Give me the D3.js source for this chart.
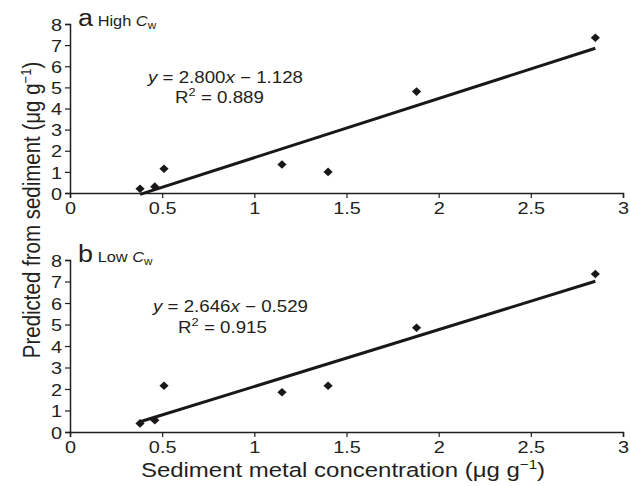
<!DOCTYPE html>
<html>
<head>
<meta charset="utf-8">
<script src="https://cdn.jsdelivr.net/npm/d3@7"></script>
<style>
  body { margin: 0; background: #fff; }
  text { font-family: "Liberation Sans", Arial, sans-serif; fill: #231f20; }
</style>
</head>
<body>
<div id="chart"></div>
<script>
// data
const sedimentX = [0.38, 0.46, 0.51, 1.15, 1.40, 1.88, 2.85];
const highCw = [0.2, 0.3, 1.15, 1.35, 1.0, 4.8, 7.35];
const lowCw = [0.4, 0.55, 2.15, 1.85, 2.15, 4.85, 7.35];
const xTicks = [0, 0.5, 1, 1.5, 2, 2.5, 3];
const yTicks = [0, 1, 2, 3, 4, 5, 6, 7, 8];

const panels = [
  { letter: "a", name: "High ", values: highCw, slope: 2.800, icept: -1.128, eq: ["2.800", "1.128"], r2: "0.889",
    top: 24, bottom: 193, eqPos: [148, 83], rPos: [175, 103] },
  { letter: "b", name: "Low ", values: lowCw, slope: 2.646, icept: -0.529, eq: ["2.646", "0.529"], r2: "0.915",
    top: 260, bottom: 432, eqPos: [153, 312], rPos: [178, 333] }
];

const width = 630, height = 486;
const stretch = 1.17; // the source type is a bit wide
const svg = d3.select("#chart").append("svg")
  .attr("width", width)
  .attr("height", height);

const x = d3.scaleLinear().domain([0, 3]).range([70, 623]);
const ink = "#231f20";

// text placed at (px,py) and widened horizontally
const wideText = (sel, px, py) => sel.append("text")
  .attr("transform", `translate(${px},${py}) scale(${stretch},1)`);

panels.forEach((p) => {
  const y = d3.scaleLinear().domain([0, 8]).range([p.bottom, p.top]);
  const g = svg.append("g");

  // axes
  const xAxis = g.append("g")
    .attr("transform", `translate(0,${p.bottom})`)
    .call(d3.axisBottom(x).tickValues(xTicks).tickSize(5).tickFormat(d3.format("")));
  const yAxis = g.append("g")
    .attr("transform", `translate(${x(0)},0)`)
    .call(d3.axisLeft(y).tickValues(yTicks).tickSize(5));
  [xAxis, yAxis].forEach((a) => {
    a.select(".domain").attr("stroke", ink).attr("stroke-width", 1.5);
    a.selectAll(".tick line").attr("stroke", ink).attr("stroke-width", 1.2);
    a.selectAll("text").style("font-size", "17px").attr("fill", ink);
  });
  xAxis.selectAll(".tick text")
    .attr("x", 0).attr("y", 0)
    .attr("transform", `translate(0,9) scale(${stretch},1)`);
  yAxis.selectAll(".tick text")
    .attr("x", 0).attr("dy", "0.36em")
    .attr("transform", `translate(-8,0) scale(${stretch},1)`);

  // trend line
  const xs = [d3.min(sedimentX), d3.max(sedimentX)];
  g.append("line")
    .attr("x1", x(xs[0])).attr("y1", y(p.slope * xs[0] + p.icept))
    .attr("x2", x(xs[1])).attr("y2", y(p.slope * xs[1] + p.icept))
    .attr("stroke", "#1a1718")
    .attr("stroke-width", 3);

  // points (diamonds)
  g.selectAll("path.pt")
    .data(sedimentX.map((v, i) => [v, p.values[i]]))
    .join("path")
    .attr("class", "pt")
    .attr("d", "M0,-4.3L4.6,0L0,4.3L-4.6,0Z")
    .attr("transform", (d) => `translate(${x(d[0])},${y(d[1])})`)
    .attr("fill", "#1a1718");

  // panel label
  const lab = wideText(g, 78, p.top + 2);
  lab.append("tspan").style("font-size", "23px").text(p.letter);
  lab.append("tspan").style("font-size", "14px").attr("dx", 4).text(p.name);
  lab.append("tspan").style("font-size", "14px").style("font-style", "italic").text("C");
  lab.append("tspan").style("font-size", "10px").attr("dy", 3).text("w");

  // equation
  const eq = wideText(g, p.eqPos[0], p.eqPos[1]).style("font-size", "16px");
  eq.append("tspan").style("font-style", "italic").text("y");
  eq.append("tspan").text(` = ${p.eq[0]}`);
  eq.append("tspan").style("font-style", "italic").text("x");
  eq.append("tspan").text(` \u2212 ${p.eq[1]}`);

  const r = wideText(g, p.rPos[0], p.rPos[1]).style("font-size", "16px");
  r.append("tspan").text("R");
  r.append("tspan").style("font-size", "11px").attr("dy", -7).text("2");
  r.append("tspan").attr("dy", 7).text(" = " + p.r2);
});

// axis titles
const yt = svg.append("text")
  .attr("transform", `translate(40,210) rotate(-90) scale(1,${stretch})`)
  .attr("text-anchor", "middle")
  .style("font-size", "20.5px");
yt.append("tspan").text("Predicted from sediment (\u03bcg g");
yt.append("tspan").style("font-size", "13px").attr("dy", -8).text("\u22121");
yt.append("tspan").attr("dy", 8).text(")");

const xt = wideText(svg, 343, 477)
  .attr("text-anchor", "middle")
  .style("font-size", "20.5px");
xt.append("tspan").text("Sediment metal concentration (\u03bcg g");
xt.append("tspan").style("font-size", "13px").attr("dy", -8).text("\u22121");
xt.append("tspan").attr("dy", 8).text(")");
</script>
</body>
</html>
